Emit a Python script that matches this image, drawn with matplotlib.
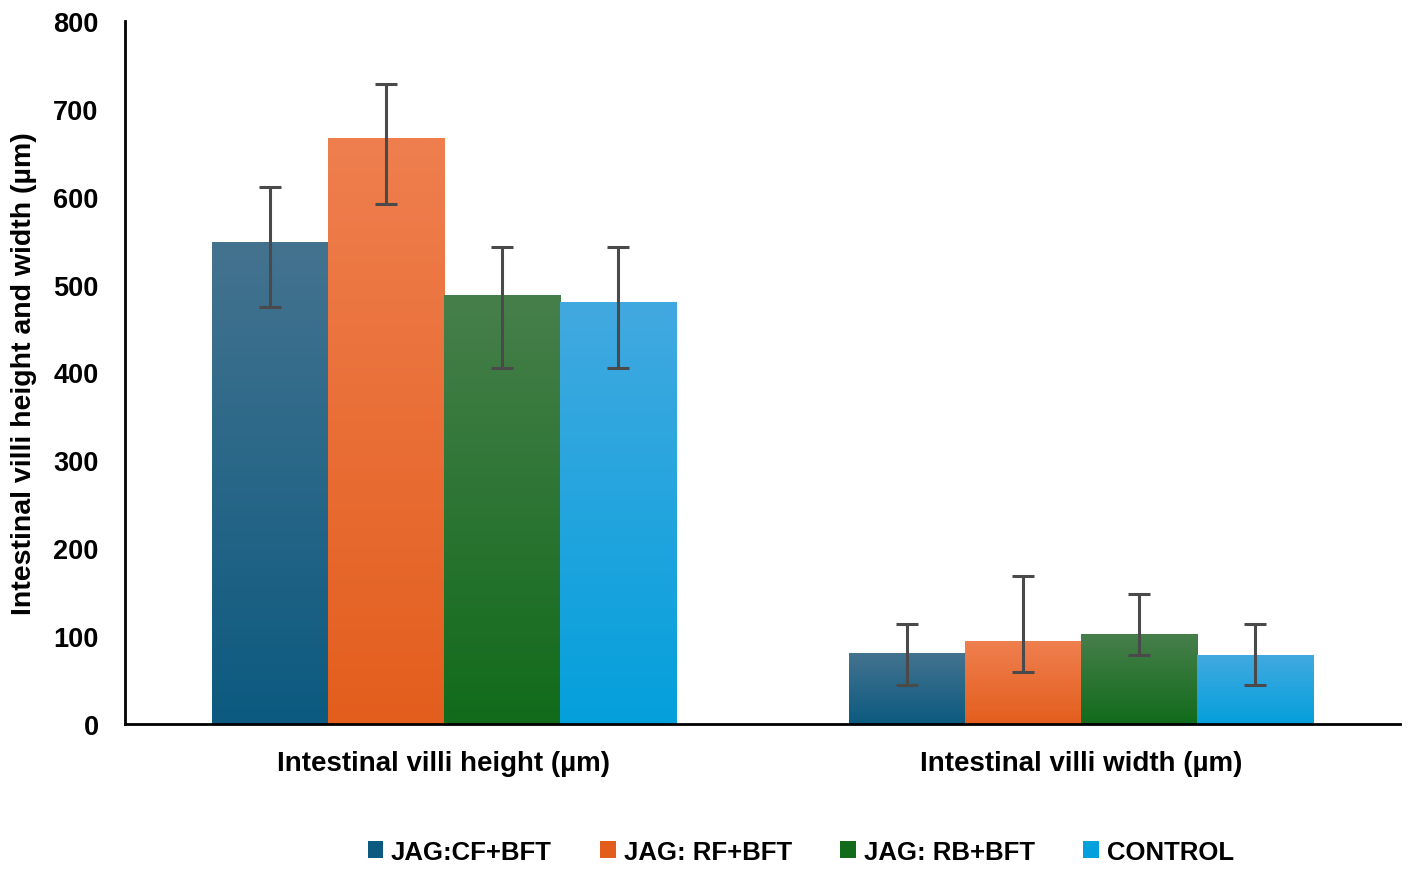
import numpy as np
import matplotlib.pyplot as plt
from matplotlib.colors import LinearSegmentedColormap

plt.rcParams['font.family'] = ['Liberation Sans', 'DejaVu Sans']
plt.rcParams['font.weight'] = 'bold'

# data
categories = ["Intestinal villi height (µm)", "Intestinal villi width (µm)"]
groups = ["JAG:CF+BFT", "JAG: RF+BFT", "JAG: RB+BFT", "CONTROL"]
means = {
    "JAG:CF+BFT": [548, 81],
    "JAG: RF+BFT": [667, 94],
    "JAG: RB+BFT": [488, 102],
    "CONTROL": [480, 78],
}
err_low = {
    "JAG:CF+BFT": [74, 37],
    "JAG: RF+BFT": [75, 35],
    "JAG: RB+BFT": [83, 23],
    "CONTROL": [75, 34],
}
err_high = {
    "JAG:CF+BFT": [63, 33],
    "JAG: RF+BFT": [61, 74],
    "JAG: RB+BFT": [55, 46],
    "CONTROL": [63, 36],
}
yticks = [0, 100, 200, 300, 400, 500, 600, 700, 800]

# (top colour, bottom colour) for the vertical gradient
colors = {
    "JAG:CF+BFT": ("#44738f", "#0c5a80"),
    "JAG: RF+BFT": ("#ef7f4f", "#e35e1d"),
    "JAG: RB+BFT": ("#477f4b", "#116b1b"),
    "CONTROL": ("#42a9e0", "#04a0dc"),
}

fig = plt.figure(figsize=(14.17, 8.79), dpi=100)
ax = fig.add_axes([0.0882, 0.1752, 0.8998, 0.7998])

x = np.arange(len(categories))
width = 0.182
grad = np.linspace(1, 0, 256).reshape(-1, 1)

handles = []
for i, g in enumerate(groups):
    pos = x + (i - 1.5) * width
    bars = ax.bar(pos, means[g], width, color=colors[g][1], edgecolor='none',
                  label=g, zorder=2)
    handles.append(bars)
    cmap = LinearSegmentedColormap.from_list(g, [colors[g][1], colors[g][0]])
    for b in bars:
        bx, by, bw, bh = b.get_x(), b.get_y(), b.get_width(), b.get_height()
        im = ax.imshow(grad, cmap=cmap, aspect='auto',
                       extent=[bx, bx + bw, by, by + bh], zorder=2.5,
                       interpolation='bicubic')
        im.set_clip_path(b)
    ax.errorbar(pos, means[g], yerr=[err_low[g], err_high[g]], fmt='none',
                ecolor='#4a4a4a', elinewidth=2.2, capsize=8, capthick=2.2, zorder=4)

ax.set_xlim(-0.5, 1.5)
ax.set_ylim(0, 800)
ax.set_yticks(yticks)
ax.set_yticklabels([str(t) for t in yticks], fontsize=19.5, fontweight='bold')
ax.set_xticks(x)
ax.set_xticklabels(categories, fontsize=20, fontweight='bold')
ax.tick_params(axis='y', length=0, pad=19)
ax.tick_params(axis='x', length=0, pad=19)
ax.set_ylabel("Intestinal villi height and width (µm)", fontsize=20.5,
              fontweight='bold', labelpad=12)

for s in ['top', 'right']:
    ax.spines[s].set_visible(False)
ax.spines['left'].set_linewidth(2)
ax.spines['bottom'].set_linewidth(2)
ax.spines['left'].set_zorder(5)
ax.spines['bottom'].set_zorder(5)

fig.legend(handles=handles, labels=groups, loc='center', ncol=4,
           bbox_to_anchor=(0.565, 0.03), frameon=False,
           handlelength=0.6, handleheight=0.6, handletextpad=0.3, columnspacing=1.9,
           prop={'weight': 'bold', 'size': 18.5})

fig.savefig("out.png", dpi=100)
